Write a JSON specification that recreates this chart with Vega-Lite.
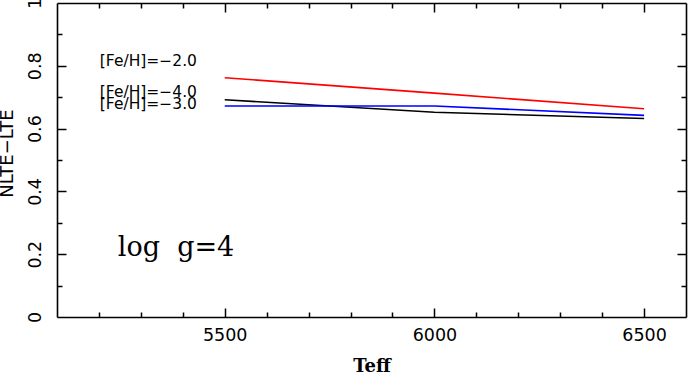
{
  "$schema": "https://vega.github.io/schema/vega-lite/v6.json",
  "width": 629,
  "height": 314,
  "autosize": {"type": "none"},
  "padding": {"left": 57, "top": 3, "right": 3, "bottom": 65},
  "background": "white",
  "config": {
    "view": {"stroke": null},
    "axis": {
      "grid": false,
      "domainColor": "black",
      "tickColor": "black",
      "domainWidth": 1.6,
      "tickWidth": 1.5,
      "labelColor": "black",
      "titleColor": "black"
    }
  },
  "datasets": {
    "lines": [
      {"teff": 5500, "val": 0.762, "series": "-2.0"},
      {"teff": 6000, "val": 0.713, "series": "-2.0"},
      {"teff": 6500, "val": 0.663, "series": "-2.0"},
      {"teff": 5500, "val": 0.692, "series": "-3.0"},
      {"teff": 6000, "val": 0.652, "series": "-3.0"},
      {"teff": 6500, "val": 0.632, "series": "-3.0"},
      {"teff": 5500, "val": 0.672, "series": "-4.0"},
      {"teff": 6000, "val": 0.672, "series": "-4.0"},
      {"teff": 6500, "val": 0.642, "series": "-4.0"}
    ],
    "labels": [
      {"teff": 5202, "val": 0.815, "label": "[Fe/H]=−2.0"},
      {"teff": 5202, "val": 0.716, "label": "[Fe/H]=−4.0"},
      {"teff": 5202, "val": 0.677, "label": "[Fe/H]=−3.0"}
    ],
    "note": [
      {"teff": 5245, "val": 0.194, "label": "log\u00a0\u00a0g=4"}
    ]
  },
  "layer": [
    {
      "data": {"name": "lines"},
      "mark": {"type": "line", "strokeWidth": 1.6},
      "encoding": {
        "x": {
          "field": "teff", "type": "quantitative",
          "scale": {"domain": [5100, 6600], "nice": false, "zero": false},
          "axis": {
            "orient": "bottom", "values": [5500, 6000, 6500], "ticks": false, "format": "d",
            "labelPadding": 9, "labelFont": "DejaVu Sans", "labelFontSize": 17.5,
            "title": "Teff", "titleFont": "DejaVu Serif", "titleFontWeight": "bold",
            "titleFontSize": 18, "titlePadding": 14
          }
        },
        "y": {
          "field": "val", "type": "quantitative",
          "scale": {"domain": [0, 1], "nice": false, "zero": false},
          "axis": {
            "orient": "left", "values": [0, 0.2, 0.4, 0.6, 0.8, 1], "ticks": false,
            "labelAngle": -90, "labelAlign": "center", "labelBaseline": "bottom",
            "labelPadding": 13, "labelFont": "DejaVu Sans", "labelFontSize": 17.5,
            "format": "~g",
            "title": "NLTE−LTE", "titleFont": "DejaVu Sans", "titleFontWeight": "normal",
            "titleFontSize": 18, "titlePadding": 10, "titleY": 150
          }
        },
        "color": {
          "field": "series", "type": "nominal",
          "scale": {"domain": ["-2.0", "-3.0", "-4.0"], "range": ["#ff0000", "#000000", "#0000ff"]},
          "legend": null
        }
      }
    },
    {
      "data": {"name": "labels"},
      "mark": {"type": "text", "align": "left", "baseline": "middle", "font": "DejaVu Sans", "fontSize": 15.5, "color": "black"},
      "encoding": {
        "x": {
          "field": "teff", "type": "quantitative",
          "axis": {
            "orient": "bottom",
            "values": [5200, 5300, 5400, 5500, 5600, 5700, 5800, 5900, 6000, 6100, 6200, 6300, 6400, 6500],
            "labels": false, "domain": false, "title": null,
            "tickSize": {"condition": {"test": "datum.value % 500 === 0", "value": -9}, "value": -5}
          }
        },
        "y": {
          "field": "val", "type": "quantitative",
          "axis": {
            "orient": "left",
            "values": [0.1, 0.2, 0.3, 0.4, 0.5, 0.6, 0.7, 0.8, 0.9],
            "labels": false, "domain": false, "title": null,
            "tickSize": {"condition": {"test": "round(datum.value * 10) % 2 === 0", "value": -9}, "value": -5}
          }
        },
        "text": {"field": "label"}
      }
    },
    {
      "data": {"name": "note"},
      "mark": {"type": "text", "align": "left", "baseline": "alphabetic", "font": "DejaVu Serif", "fontSize": 27, "color": "black"},
      "encoding": {
        "x": {
          "field": "teff", "type": "quantitative",
          "axis": {
            "orient": "top",
            "values": [5200, 5300, 5400, 5500, 5600, 5700, 5800, 5900, 6000, 6100, 6200, 6300, 6400, 6500],
            "labels": false, "domain": true, "title": null,
            "tickSize": {"condition": {"test": "datum.value % 500 === 0", "value": -9}, "value": -5}
          }
        },
        "y": {
          "field": "val", "type": "quantitative",
          "axis": {
            "orient": "right",
            "values": [0.1, 0.2, 0.3, 0.4, 0.5, 0.6, 0.7, 0.8, 0.9],
            "labels": false, "domain": true, "title": null,
            "tickSize": {"condition": {"test": "round(datum.value * 10) % 2 === 0", "value": -9}, "value": -5}
          }
        },
        "text": {"field": "label"}
      }
    }
  ],
  "resolve": {"axis": {"x": "independent", "y": "independent"}}
}
